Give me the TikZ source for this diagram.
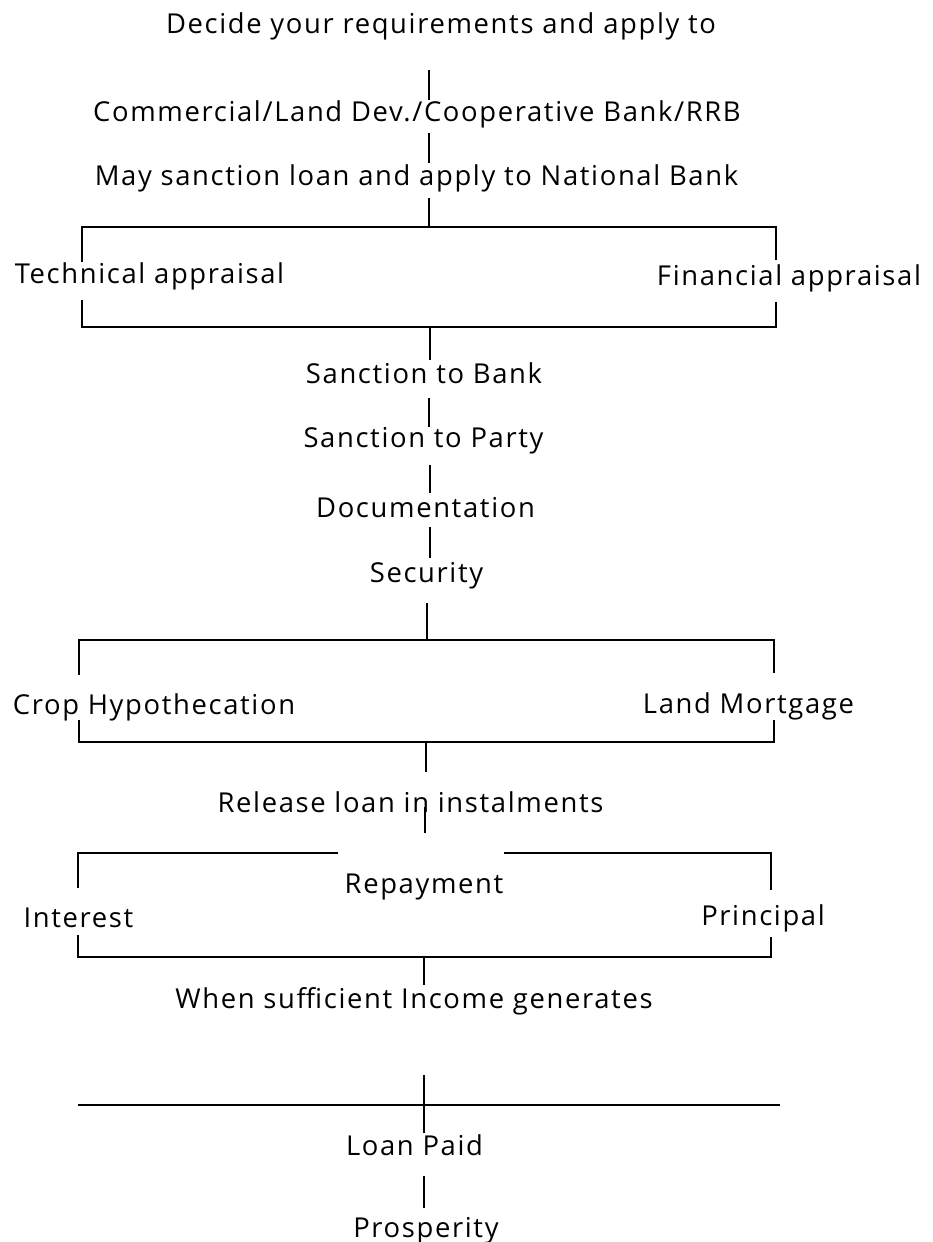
\documentclass[tikz,border=0pt]{standalone}
\usepackage{fontspec}
\setmainfont{Open Sans}[LetterSpace=6]
\begin{document}
\begin{tikzpicture}[x=1pt,y=-1pt,
  lbl/.style={inner sep=0pt, anchor=base, font=\fontsize{27.4}{31}\selectfont},
  ln/.style={line width=2.2pt, line cap=butt, line join=miter}]
\useasboundingbox (0,0) rectangle (932,1242);
% texts
\node[lbl] (t1) at (441,33) {Decide your requirements and apply to};
\node[lbl] (t2) at (417,121) {Commercial/Land Dev./Cooperative Bank/RRB};
\node[lbl] (t3) at (416.5,185) {May sanction loan and apply to National Bank};
\node[lbl] (t4) at (149.5,283) {Technical appraisal};
\node[lbl] (t5) at (789,285) {Financial appraisal};
\node[lbl] (t6) at (424,383) {Sanction to Bank};
\node[lbl] (t7) at (423.5,447) {Sanction to Party};
\node[lbl] (t8) at (425.5,517) {Documentation};
\node[lbl] (t9) at (426.5,582) {Security};
\node[lbl] (t10) at (154,714) {Crop Hypothecation};
\node[lbl] (t11) at (748.5,713) {Land Mortgage};
\node[lbl] (t12) at (410.5,812) {Release loan in instalments};
\node[lbl] (t13) at (424,893) {Repayment};
\node[lbl] (t14) at (78.5,927) {Interest};
\node[lbl] (t15) at (763,925) {Principal};
\node[lbl] (t16) at (414,1008) {When sufficient Income generates};
\node[lbl] (t17) at (414.5,1155) {Loan Paid};
\node[lbl] (t18) at (426,1237) {Prosperity};
% connector end points
\coordinate (v1a) at (429,70);   \coordinate (v1b) at (429,100);
\coordinate (v2a) at (429,133);  \coordinate (v2b) at (429,163);
\coordinate (v3a) at (429,198);  \coordinate (v3b) at (429,227);
\coordinate (aL1) at (82,262);   \coordinate (aL0) at (82,227);
\coordinate (aR0) at (776,227);  \coordinate (aR1) at (776,260);
\coordinate (aL2) at (82,300);   \coordinate (aL3) at (82,327);
\coordinate (aR3) at (776,327);  \coordinate (aR2) at (776,302);
\coordinate (v4a) at (430,327);  \coordinate (v4b) at (430,360);
\coordinate (v5a) at (429,398);  \coordinate (v5b) at (429,427);
\coordinate (v6a) at (430,465);  \coordinate (v6b) at (430,493);
\coordinate (v7a) at (430,527);  \coordinate (v7b) at (430,558);
\coordinate (v8a) at (427,603);  \coordinate (v8b) at (427,640);
\coordinate (bL1) at (79,675);   \coordinate (bL0) at (79,640);
\coordinate (bR0) at (774,640);  \coordinate (bR1) at (774,673);
\coordinate (bL2) at (79,720);   \coordinate (bL3) at (79,742);
\coordinate (bR3) at (774,742);  \coordinate (bR2) at (774,720);
\coordinate (v9a) at (426,742);  \coordinate (v9b) at (426,772);
\coordinate (v10a) at (425,807); \coordinate (v10b) at (425,833);
\coordinate (cL1) at (78,888);   \coordinate (cL0) at (78,853);
\coordinate (cLe) at (338,853);
\coordinate (cRe) at (504,853);
\coordinate (cR0) at (771,853);  \coordinate (cR1) at (771,890);
\coordinate (cL2) at (78,935);   \coordinate (cL3) at (78,957);
\coordinate (cR3) at (771,957);  \coordinate (cR2) at (771,937);
\coordinate (v11a) at (424,957); \coordinate (v11b) at (424,985);
\coordinate (v12a) at (424,1075);\coordinate (v12b) at (424,1133);
\coordinate (dL) at (78,1105);   \coordinate (dR) at (780,1105);
\coordinate (v13a) at (424,1176);\coordinate (v13b) at (424,1208);
% connectors
\draw[ln] (v1a) -- (v1b);
\draw[ln] (v2a) -- (v2b);
\draw[ln] (v3a) -- (v3b);
\draw[ln] (aL1) -- (aL0) -- (aR0) -- (aR1);
\draw[ln] (aL2) -- (aL3) -- (aR3) -- (aR2);
\draw[ln] (v4a) -- (v4b);
\draw[ln] (v5a) -- (v5b);
\draw[ln] (v6a) -- (v6b);
\draw[ln] (v7a) -- (v7b);
\draw[ln] (v8a) -- (v8b);
\draw[ln] (bL1) -- (bL0) -- (bR0) -- (bR1);
\draw[ln] (bL2) -- (bL3) -- (bR3) -- (bR2);
\draw[ln] (v9a) -- (v9b);
\draw[ln] (v10a) -- (v10b);
\draw[ln] (cL1) -- (cL0) -- (cLe);
\draw[ln] (cRe) -- (cR0) -- (cR1);
\draw[ln] (cL2) -- (cL3) -- (cR3) -- (cR2);
\draw[ln] (v11a) -- (v11b);
\draw[ln] (v12a) -- (v12b);
\draw[ln] (dL) -- (dR);
\draw[ln] (v13a) -- (v13b);
\end{tikzpicture}
\end{document}
